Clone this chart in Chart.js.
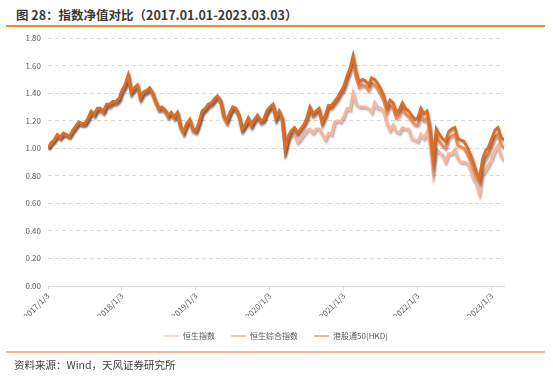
<!DOCTYPE html>
<html>
<head>
<meta charset="utf-8">
<script src="https://cdn.jsdelivr.net/npm/chart.js@4"></script>
<style>
  html, body { margin: 0; padding: 0; background: #fff; }
  body { width: 553px; height: 382px; position: relative; overflow: hidden;
         font-family: "Noto Sans CJK SC", "Noto Sans", sans-serif; }
  #title { position: absolute; left: 16px; top: 6px; font-size: 12.5px; line-height: 18px;
           font-weight: bold; color: #3a3a3a; white-space: nowrap; }
  .rule { position: absolute; left: 6px; width: 539px; }
  #ruleTop { top: 25px; height: 1.5px; background: #F08A2E; }
  #ruleBottom { top: 351px; height: 1.5px; background: #F6B88C; }
  #src { position: absolute; left: 14px; top: 357px; font-size: 10.5px; line-height: 16px;
         color: #404040; white-space: nowrap; }
  #c { position: absolute; left: 0; top: 0; }
</style>
</head>
<body>
<div id="title">图 28：指数净值对比（2017.01.01-2023.03.03）</div>
<div class="rule" id="ruleTop"></div>
<canvas id="c" width="553" height="382"></canvas>
<div class="rule" id="ruleBottom"></div>
<div id="src">资料来源：Wind，天风证券研究所</div>
<script>
// --- series names ---
const seriesNames = ["恒生指数", "恒生综合指数", "港股通50(HKD)"];

// --- x ticks: one label per year, 24 points per year (about every half month) ---
const yearLabels = ["2017/1/3", "2018/1/3", "2019/1/3", "2020/1/3", "2021/1/3", "2022/1/3", "2023/1/3"];
const pointsPerYear = 24;

// --- net values (2017.01.03 -> 2023.03.03) ---
const hsi = [
  1.00,1.03,1.05,1.09,1.07,1.10,1.09,1.08,1.12,1.15,1.18,1.17,1.17,1.20,1.25,1.23,1.27,1.27,1.25,1.30,1.30,1.32,1.32,1.34,
  1.40,1.44,1.51,1.39,1.42,1.44,1.35,1.39,1.40,1.42,1.38,1.32,1.27,1.28,1.26,1.22,1.24,1.21,1.24,1.14,1.10,1.16,1.19,1.12,
  1.11,1.17,1.25,1.27,1.30,1.31,1.34,1.36,1.33,1.22,1.18,1.24,1.28,1.27,1.22,1.12,1.15,1.20,1.15,1.19,1.22,1.18,1.19,1.25,
  1.28,1.30,1.20,1.25,1.19,0.98,1.06,1.10,1.10,1.04,1.07,1.10,1.13,1.14,1.11,1.14,1.14,1.10,1.06,1.11,1.10,1.19,1.20,1.19,
  1.23,1.29,1.28,1.40,1.32,1.30,1.30,1.30,1.29,1.26,1.33,1.29,1.29,1.26,1.18,1.13,1.17,1.12,1.11,1.15,1.14,1.14,1.07,1.06,
  1.05,1.10,1.07,1.12,1.02,0.82,0.99,0.97,0.95,0.90,0.96,0.96,0.99,0.92,0.90,0.90,0.89,0.85,0.78,0.74,0.67,0.81,0.84,0.88,
  0.92,0.98,1.02,0.94,0.91
];
const hsci = [
  1.00,1.03,1.05,1.09,1.07,1.10,1.09,1.08,1.12,1.15,1.18,1.17,1.17,1.21,1.26,1.24,1.28,1.28,1.26,1.31,1.31,1.33,1.33,1.35,
  1.41,1.45,1.52,1.40,1.43,1.45,1.36,1.40,1.41,1.43,1.39,1.33,1.28,1.29,1.27,1.23,1.25,1.22,1.25,1.15,1.11,1.17,1.20,1.13,
  1.12,1.18,1.26,1.28,1.31,1.32,1.35,1.37,1.34,1.23,1.19,1.25,1.29,1.28,1.23,1.13,1.16,1.21,1.16,1.20,1.23,1.19,1.20,1.26,
  1.29,1.31,1.21,1.26,1.21,0.98,1.08,1.12,1.14,1.10,1.13,1.16,1.20,1.28,1.23,1.25,1.27,1.17,1.22,1.29,1.29,1.32,1.35,1.39,
  1.42,1.49,1.55,1.63,1.51,1.44,1.46,1.45,1.42,1.47,1.46,1.43,1.39,1.34,1.26,1.31,1.29,1.22,1.24,1.29,1.25,1.23,1.20,1.17,
  1.17,1.24,1.20,1.22,1.10,0.88,1.09,1.05,1.02,1.00,1.07,1.09,1.10,1.02,1.01,1.00,0.96,0.91,0.85,0.79,0.75,0.87,0.93,0.96,
  1.02,1.08,1.10,1.03,1.00
];
const ggt50 = [
  1.00,1.04,1.06,1.10,1.08,1.11,1.10,1.09,1.13,1.16,1.19,1.18,1.18,1.22,1.27,1.25,1.29,1.29,1.27,1.32,1.32,1.34,1.34,1.36,
  1.42,1.46,1.53,1.41,1.44,1.46,1.37,1.41,1.42,1.44,1.40,1.34,1.29,1.30,1.28,1.24,1.26,1.23,1.26,1.16,1.12,1.18,1.21,1.14,
  1.13,1.19,1.27,1.29,1.32,1.33,1.36,1.38,1.35,1.24,1.20,1.26,1.30,1.29,1.24,1.14,1.17,1.22,1.17,1.21,1.24,1.20,1.21,1.27,
  1.30,1.32,1.22,1.27,1.22,0.99,1.09,1.13,1.15,1.11,1.14,1.17,1.22,1.30,1.25,1.27,1.29,1.19,1.24,1.31,1.31,1.34,1.37,1.41,
  1.45,1.52,1.58,1.67,1.55,1.48,1.50,1.49,1.46,1.51,1.50,1.47,1.43,1.38,1.30,1.35,1.33,1.26,1.28,1.33,1.29,1.27,1.24,1.21,
  1.22,1.29,1.25,1.27,1.15,0.93,1.14,1.10,1.07,1.05,1.12,1.14,1.15,1.07,1.06,1.05,1.01,0.96,0.90,0.83,0.78,0.92,0.98,1.01,
  1.07,1.13,1.15,1.08,1.06
];

const colors = ["#F5B79E", "#EE8D5B", "#DE6C22"];

const toXY = arr => arr.map((v, i) => ({ x: i, y: v }));

// grey drop shadow under the lines, like the original
const lineShadow = {
  id: "lineShadow",
  beforeDatasetsDraw(chart) {
    const c = chart.ctx;
    c.save();
    c.shadowColor = "rgba(0,0,0,0.35)";
    c.shadowBlur = 2;
    c.shadowOffsetX = 1;
    c.shadowOffsetY = 1.5;
  },
  afterDatasetsDraw(chart) {
    chart.ctx.restore();
  }
};

new Chart(document.getElementById("c"), {
  type: "line",
  data: {
    datasets: [
      { label: seriesNames[0], data: toXY(hsi), borderColor: colors[0], backgroundColor: colors[0], order: 3 },
      { label: seriesNames[1], data: toXY(hsci), borderColor: colors[1], backgroundColor: colors[1], order: 2 },
      { label: seriesNames[2], data: toXY(ggt50), borderColor: colors[2], backgroundColor: colors[2], order: 1 }
    ]
  },
  options: {
    responsive: false,
    animation: false,
    elements: {
      line: { borderWidth: 2.8, tension: 0 },
      point: { radius: 0 }
    },
    layout: { padding: { left: 0, right: 49, top: 38, bottom: 32 } },
    plugins: {
      tooltip: { enabled: false },
      legend: {
        position: "bottom",
        fullSize: false,
        labels: {
          usePointStyle: true,
          pointStyle: "line",
          pointStyleWidth: 15,
          padding: 16,
          color: "#595959",
          font: { size: 8, family: "'Noto Sans CJK SC'" },
          sort: (a, b) => a.datasetIndex - b.datasetIndex
        }
      }
    },
    scales: {
      x: {
        type: "linear",
        min: 0,
        max: hsi.length - 1,
        afterBuildTicks: axis => {
          axis.ticks = yearLabels.map((_, k) => ({ value: k * pointsPerYear }));
        },
        afterFit: scale => { scale.height = 30; },
        ticks: {
          autoSkip: false,
          minRotation: 45,
          maxRotation: 45,
          padding: 1,
          color: "#595959",
          font: { size: 8, family: "'Noto Sans CJK SC'" },
          callback: v => yearLabels[Math.round(v / pointsPerYear)]
        },
        grid: { drawOnChartArea: false, drawTicks: true, tickLength: 4, color: "#D9D9D9" },
        border: { display: true, color: "#D9D9D9" }
      },
      y: {
        min: 0,
        max: 1.8,
        afterFit: scale => { scale.width = 48; },
        ticks: {
          stepSize: 0.2,
          padding: 7,
          color: "#595959",
          font: { size: 8, family: "'Noto Sans CJK SC'" },
          callback: v => v.toFixed(2)
        },
        grid: { color: "#D9D9D9", drawTicks: false },
        border: { display: false, dash: [4, 3] }
      }
    }
  },
  plugins: [lineShadow]
});
</script>
</body>
</html>
